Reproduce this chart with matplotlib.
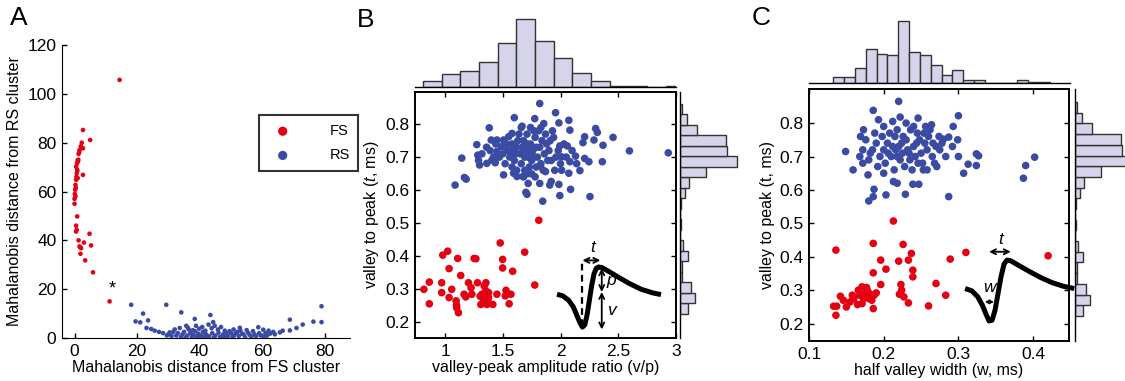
import matplotlib
matplotlib.use("Agg")
import matplotlib.pyplot as plt
import numpy as np

plt.rcParams['font.family'] = ['Liberation Sans', 'DejaVu Sans']
plt.rcParams['mathtext.fontset'] = 'custom'
plt.rcParams['mathtext.rm'] = 'Liberation Sans'
plt.rcParams['mathtext.it'] = 'Liberation Sans:italic'
plt.rcParams['font.size'] = 11.5
plt.rcParams['xtick.labelsize'] = 12.5
plt.rcParams['ytick.labelsize'] = 12.5

RED = '#e50012'
BLUE = '#3b4ba3'
HIST_FILL = '#d5d4ea'
HIST_EDGE = '#333333'

# ---- panel A: Mahalanobis distances ----
a_fs_x = [14.4, 2.7, 5.0, 2.3, 2.7, 1.6, 1.3, 1.1, 0.8, 2.7, 0.0, 0.0, 0.1, 0.2, 0.3, 0.5,
          0.7, 0.5, 0.85, 0.5, 0.7, 0.5, 1.3, 1.6, 2.1, 1.8, 3.0, 4.8, 5.3, 1.9, 3.4, 5.9,
          11.2, 0.6, 0.9, 1.0, 1.2, 0.4, 0.8, 1.5, 2.0, 1.0, 0.3]
a_fs_y = [105.7, 85.2, 81.1, 80.0, 77.7, 77.0, 75.4, 72.3, 71.5, 66.8, 55.0, 57.0, 59.0, 60.7,
          62.7, 64.8, 67.5, 70.2, 49.8, 46.0, 44.3, 43.6, 40.0, 37.5, 36.8, 37.2, 39.1, 42.7,
          37.9, 34.5, 31.8, 26.9, 15.0, 66.0, 68.5, 65.5, 73.0, 61.5, 69.0, 76.0, 78.5, 72.8, 58.0]
a_rs_x = [18.1, 29.3, 34.1, 21.9, 43.4, 78.9, 78.9, 68.8, 76.3, 72.9, 68.8, 70.9, 19.5, 21.0,
          23.5, 38.4, 44.3, 23.0, 24.5, 25.6, 28.3, 30.4, 33.6, 35.7, 58.7, 60.3, 65.6, 62.0,
          61.0, 63.5, 66.5, 57.0, 55.5, 54.0, 53.0, 52.0, 51.0, 50.0, 49.0, 48.0, 47.5, 46.5,
          46.0, 45.0, 44.5, 44.0, 43.0, 42.5, 42.0, 41.5, 41.0, 40.5, 40.0, 39.5, 39.0, 38.5,
          38.0, 37.5, 37.0, 36.5, 36.0, 35.5, 35.0, 34.5, 34.0, 33.0, 32.5, 31.5, 31.0, 30.0,
          36.2, 37.8, 39.8, 41.8, 43.8, 45.8, 47.8, 48.5, 49.5, 50.5, 51.5, 52.5, 53.5, 54.5,
          55.0, 56.0, 56.5, 57.5, 58.0, 59.0, 59.5, 60.5, 61.5, 62.5, 64.0, 44.8, 42.8, 40.8,
          38.8, 46.8, 52.8, 50.8, 27.0, 32.0, 29.5]
a_rs_y = [13.6, 13.6, 10.5, 10.0, 9.4, 13.0, 6.5, 7.5, 6.7, 5.5, 3.1, 4.1, 6.8, 6.4,
          7.2, 7.8, 6.5, 4.1, 3.7, 3.0, 2.0, 2.3, 4.1, 5.0, 4.4, 3.4, 2.3, 3.0,
          2.0, 2.5, 3.0, 2.8, 2.0, 1.5, 3.0, 2.5, 1.0, 2.0, 0.8, 3.0, 1.5, 0.5,
          2.2, 1.0, 0.3, 2.0, 0.8, 0.2, 1.5, 0.5, 2.5, 1.0, 0.3, 1.8, 0.6, 2.8,
          1.2, 0.4, 2.0, 3.5, 1.0, 0.2, 2.5, 1.5, 0.5, 2.0, 1.0, 2.5, 0.8, 1.5,
          4.2, 3.2, 3.8, 3.0, 4.0, 3.5, 0.2, 1.8, 2.8, 0.5, 2.0, 0.8, 1.8, 0.3,
          3.2, 1.2, 0.5, 1.5, 0.8, 2.0, 1.0, 0.5, 1.0, 1.8, 1.5, 5.0, 5.5, 4.5,
          5.0, 4.5, 4.2, 3.5, 2.5, 3.5, 1.0]

# ---- panel B: amplitude ratio vs valley-to-peak ----
b_fs = [(1.812, 0.508), (0.817, 0.298), (0.864, 0.320), (0.864, 0.254), (0.971, 0.318),
        (0.980, 0.402), (1.023, 0.414), (0.971, 0.288), (1.035, 0.361), (1.058, 0.298),
        (1.035, 0.273), (1.096, 0.263), (1.101, 0.242), (1.116, 0.227), (1.110, 0.392),
        (1.136, 0.340), (1.165, 0.283), (1.203, 0.318), (1.226, 0.303), (1.232, 0.283),
        (1.252, 0.392), (1.267, 0.391), (1.281, 0.318), (1.310, 0.252), (1.319, 0.283),
        (1.339, 0.308), (1.354, 0.318), (1.354, 0.293), (1.333, 0.268), (1.362, 0.252),
        (1.377, 0.273), (1.377, 0.288), (1.414, 0.252), (1.449, 0.283), (1.478, 0.439),
        (1.499, 0.389), (1.499, 0.363), (1.522, 0.278), (1.528, 0.295), (1.555, 0.254),
        (1.571, 0.283), (1.586, 0.353), (1.690, 0.411), (1.777, 0.311), (1.304, 0.277),
        (1.342, 0.285), (1.370, 0.262), (1.100, 0.250), (1.180, 0.275)]
b_rs = [(1.820, 0.863), (1.600, 0.820), (1.777, 0.817), (1.957, 0.835), (2.072, 0.812),
        (1.986, 0.804), (1.383, 0.789), (1.667, 0.794), (1.855, 0.802), (2.081, 0.782),
        (2.304, 0.787), (2.319, 0.775), (2.455, 0.760), (2.209, 0.762), (2.290, 0.752),
        (2.368, 0.736), (2.194, 0.744), (2.597, 0.719), (2.933, 0.713), (2.362, 0.686),
        (2.246, 0.686), (2.209, 0.696), (2.130, 0.703), (2.081, 0.686), (2.058, 0.734),
        (1.994, 0.734), (2.009, 0.701), (2.168, 0.659), (2.072, 0.651), (2.087, 0.602),
        (1.986, 0.617), (1.994, 0.583), (1.919, 0.626), (1.907, 0.615), (1.820, 0.620),
        (1.846, 0.566), (1.710, 0.587), (1.700, 0.593), (2.255, 0.580), (1.870, 0.656),
        (1.826, 0.673), (1.751, 0.649), (1.675, 0.641), (1.623, 0.641), (1.594, 0.651),
        (1.507, 0.646), (1.435, 0.683), (1.406, 0.691), (1.362, 0.681), (1.299, 0.676),
        (1.284, 0.706), (1.275, 0.738), (1.145, 0.697), (1.087, 0.615), (1.168, 0.638),
        (1.183, 0.633), (1.400, 0.752), (1.449, 0.752), (1.507, 0.752), (1.490, 0.732),
        (1.449, 0.717), (1.551, 0.762), (1.580, 0.772), (1.62, 0.73), (1.65, 0.71),
        (1.68, 0.75), (1.70, 0.72), (1.72, 0.70), (1.74, 0.74), (1.76, 0.72), (1.78, 0.76),
        (1.80, 0.70), (1.82, 0.73), (1.84, 0.75), (1.86, 0.71), (1.88, 0.74), (1.90, 0.72),
        (1.92, 0.69), (1.94, 0.76), (1.60, 0.69), (1.58, 0.74), (1.56, 0.70), (1.54, 0.72),
        (1.52, 0.68), (1.50, 0.71), (1.64, 0.77), (1.66, 0.68), (1.69, 0.66), (1.71, 0.77),
        (1.73, 0.67), (1.75, 0.69), (1.77, 0.78), (1.79, 0.67), (1.81, 0.78), (1.83, 0.68),
        (1.85, 0.66), (1.87, 0.77), (1.89, 0.69), (1.91, 0.75), (1.96, 0.70), (1.98, 0.72),
        (1.63, 0.75), (1.67, 0.73), (1.71, 0.74), (1.69, 0.70), (1.73, 0.72), (1.75, 0.71),
        (1.77, 0.70), (1.79, 0.73), (1.61, 0.71), (1.57, 0.72), (1.53, 0.74), (1.47, 0.70),
        (1.44, 0.74), (1.42, 0.70), (1.66, 0.79), (1.74, 0.79), (1.83, 0.79), (1.62, 0.66),
        (1.72, 0.65), (1.58, 0.67), (2.00, 0.68), (2.03, 0.74), (2.05, 0.70), (2.10, 0.72),
        (2.14, 0.68), (2.01, 0.66), (1.95, 0.66), (1.93, 0.78), (1.68, 0.64), (1.78, 0.64),
        (1.72, 0.62), (1.36, 0.73), (1.32, 0.71), (1.39, 0.72), (1.29, 0.69)]

# ---- panel C: half valley width vs valley-to-peak ----
c_fs = [(0.213, 0.507), (0.136, 0.420), (0.186, 0.440), (0.226, 0.437), (0.237, 0.410),
        (0.233, 0.390), (0.220, 0.387), (0.196, 0.390), (0.203, 0.363), (0.239, 0.360),
        (0.239, 0.340), (0.186, 0.352), (0.196, 0.317), (0.223, 0.317), (0.224, 0.300),
        (0.227, 0.280), (0.221, 0.288), (0.233, 0.262), (0.260, 0.253), (0.270, 0.320),
        (0.283, 0.285), (0.289, 0.393), (0.310, 0.413), (0.420, 0.403), (0.136, 0.225),
        (0.133, 0.252), (0.137, 0.252), (0.142, 0.282), (0.150, 0.250), (0.155, 0.265),
        (0.160, 0.275), (0.165, 0.257), (0.166, 0.300), (0.168, 0.285), (0.173, 0.275),
        (0.171, 0.310), (0.177, 0.308), (0.175, 0.290), (0.181, 0.290), (0.184, 0.270),
        (0.186, 0.245), (0.187, 0.285), (0.190, 0.292), (0.178, 0.300), (0.171, 0.260),
        (0.146, 0.270), (0.158, 0.285), (0.180, 0.275)]
c_rs = [(0.220, 0.865), (0.186, 0.838), (0.222, 0.818), (0.246, 0.815), (0.300, 0.822),
        (0.193, 0.810), (0.212, 0.805), (0.264, 0.795), (0.293, 0.790), (0.173, 0.780),
        (0.169, 0.760), (0.149, 0.715), (0.159, 0.660), (0.172, 0.680), (0.179, 0.645),
        (0.187, 0.602), (0.180, 0.567), (0.186, 0.580), (0.203, 0.585), (0.229, 0.587),
        (0.239, 0.617), (0.247, 0.617), (0.287, 0.580), (0.307, 0.650), (0.313, 0.677),
        (0.324, 0.673), (0.324, 0.708), (0.327, 0.702), (0.283, 0.700), (0.299, 0.750),
        (0.287, 0.758), (0.280, 0.752), (0.275, 0.720), (0.387, 0.635), (0.390, 0.673),
        (0.402, 0.698), (0.271, 0.670), (0.253, 0.660), (0.218, 0.620), (0.213, 0.625),
        (0.200, 0.650), (0.192, 0.670), (0.200, 0.720), (0.205, 0.740), (0.210, 0.700),
        (0.215, 0.760), (0.220, 0.730), (0.225, 0.710), (0.230, 0.750), (0.235, 0.690),
        (0.240, 0.730), (0.245, 0.770), (0.250, 0.710), (0.255, 0.740), (0.260, 0.760),
        (0.265, 0.700), (0.270, 0.730), (0.195, 0.700), (0.190, 0.740), (0.185, 0.720),
        (0.180, 0.690), (0.176, 0.750), (0.172, 0.720), (0.168, 0.700), (0.202, 0.680),
        (0.208, 0.770), (0.212, 0.730), (0.218, 0.780), (0.222, 0.690), (0.226, 0.760),
        (0.232, 0.720), (0.236, 0.780), (0.242, 0.700), (0.248, 0.750), (0.252, 0.680),
        (0.258, 0.720), (0.262, 0.780), (0.268, 0.680), (0.274, 0.760), (0.278, 0.740),
        (0.228, 0.670), (0.238, 0.660), (0.214, 0.660), (0.206, 0.710), (0.216, 0.720),
        (0.224, 0.740), (0.234, 0.710), (0.244, 0.740), (0.254, 0.770), (0.198, 0.760),
        (0.188, 0.770), (0.182, 0.710), (0.230, 0.800), (0.240, 0.790), (0.256, 0.790),
        (0.266, 0.740), (0.292, 0.730), (0.300, 0.700), (0.258, 0.660), (0.246, 0.680),
        (0.218, 0.700), (0.200, 0.790)]

# histogram counts (marginals)
b_top_start, b_top_width = 0.811, 0.1614
b_top_counts = [6, 13, 16, 25, 44, 68, 46, 29, 14, 6, 1, 1, 0, 1]
c_top_start, c_top_width = 0.1325, 0.01443
c_top_counts = [6, 6, 15, 34, 29, 28, 62, 31, 28, 18, 8, 13, 3, 3, 0, 0, 0, 3, 1, 1]
t_start, t_width = 0.223, 0.032
t_counts = [8, 15, 11, 2, 2, 8, 3, 0, 1, 0, 1, 5, 9, 26, 57, 47, 46, 17, 7, 2]

# schematic spike waveforms
wave_b_x = [1.97, 2.02, 2.07, 2.11, 2.14, 2.17, 2.19, 2.21, 2.23, 2.25, 2.27, 2.29, 2.31,
            2.33, 2.36, 2.42, 2.50, 2.60, 2.70, 2.80, 2.87]
wave_b_y = [0.283, 0.278, 0.265, 0.245, 0.220, 0.195, 0.183, 0.190, 0.220, 0.265, 0.310,
            0.345, 0.362, 0.366, 0.364, 0.352, 0.335, 0.315, 0.298, 0.287, 0.282]
wave_c_x = [0.309, 0.318, 0.326, 0.332, 0.337, 0.341, 0.345, 0.349, 0.353, 0.357, 0.361,
            0.365, 0.370, 0.380, 0.395, 0.410, 0.425, 0.440, 0.455]
wave_c_y = [0.305, 0.298, 0.280, 0.255, 0.228, 0.208, 0.210, 0.240, 0.290, 0.340, 0.378,
            0.390, 0.388, 0.375, 0.356, 0.338, 0.323, 0.312, 0.305]

W, H = 1125, 381
fig = plt.figure(figsize=(W / 100, H / 100), dpi=100)


def px_axes(left, top, right, bottom):
    return fig.add_axes([left / W, 1 - bottom / H, (right - left) / W, (bottom - top) / H])


def matlab_ticks(ax):
    ax.tick_params(direction='in', length=3.5, width=1.0, top=True, right=True, pad=4)
    for s in ax.spines.values():
        s.set_linewidth(1.4)


# ---------- A ----------
axA = px_axes(62, 45, 350, 338)
axA.scatter(a_fs_x, a_fs_y, s=11, c=RED, edgecolors='none', label='FS', zorder=3)
axA.scatter(a_rs_x, a_rs_y, s=11, c=BLUE, edgecolors='none', label='RS', zorder=3)
axA.set_xlim(-4, 88)
axA.set_ylim(0, 120)
axA.set_xticks([0, 20, 40, 60, 80])
axA.set_yticks([0, 20, 40, 60, 80, 100, 120])
axA.spines['top'].set_visible(False)
axA.spines['right'].set_visible(False)
axA.tick_params(direction='in', length=3.5, width=1.0, pad=4)
axA.set_xlabel('Mahalanobis distance from FS cluster', labelpad=1)
axA.set_ylabel('Mahalanobis distance from RS cluster', labelpad=4)
axA.text(12.1, 16.5, '*', fontsize=13, ha='center', va='bottom')
leg = axA.legend(loc='upper left', bbox_to_anchor=(0.66, 0.785), frameon=True, fancybox=False,
                 edgecolor='black', markerscale=2.0, handletextpad=2.2, borderpad=0.6,
                 fontsize=10.5, labelspacing=0.7)
leg.get_frame().set_linewidth(1.5)
fig.text(10 / W, 1 - 18 / H, 'A', fontsize=19, va='center', ha='left')


def scatter_panel(box, fs, rs, xlim, ylim, xticks, xticklabels, xlabel, ylabel):
    ax = px_axes(*box)
    ax.scatter([p[0] for p in rs], [p[1] for p in rs], s=30, c=BLUE, edgecolors='none', zorder=3)
    ax.scatter([p[0] for p in fs], [p[1] for p in fs], s=30, c=RED, edgecolors='none', zorder=3)
    ax.set_xlim(*xlim)
    ax.set_ylim(*ylim)
    ax.set_xticks(xticks)
    ax.set_xticklabels(xticklabels)
    ax.set_yticks([0.2, 0.3, 0.4, 0.5, 0.6, 0.7, 0.8])
    matlab_ticks(ax)
    ax.set_xlabel(xlabel, labelpad=1)
    ax.set_ylabel(ylabel, labelpad=3)
    return ax


def top_hist(box, start, width, counts, xlim):
    ax = px_axes(*box)
    edges = [start + i * width for i in range(len(counts))]
    ax.bar(edges, counts, width=width, align='edge', color=HIST_FILL, edgecolor=HIST_EDGE,
           linewidth=1.0, clip_on=True)
    ax.set_xlim(*xlim)
    ax.set_ylim(0, box[3] - box[1])
    ax.set_xticks([])
    ax.set_yticks([])
    for k in ['top', 'left', 'right']:
        ax.spines[k].set_visible(False)
    ax.spines['bottom'].set_linewidth(1.0)
    ax.patch.set_alpha(0)
    return ax


def right_hist(box, ylim):
    ax = px_axes(*box)
    edges = [t_start + i * t_width for i in range(len(t_counts))]
    ax.barh(edges, t_counts, height=t_width, align='edge', color=HIST_FILL, edgecolor=HIST_EDGE,
            linewidth=1.0)
    ax.set_ylim(*ylim)
    ax.set_xlim(0, box[2] - box[0])
    ax.set_xticks([])
    ax.set_yticks([])
    for k in ['top', 'bottom', 'right']:
        ax.spines[k].set_visible(False)
    ax.spines['left'].set_linewidth(1.0)
    ax.patch.set_alpha(0)
    return ax


# ---------- B ----------
axB = scatter_panel((415, 92, 676, 338), b_fs, b_rs, (0.74, 3.0), (0.15, 0.898),
                    [1, 1.5, 2, 2.5, 3], ['1', '1.5', '2', '2.5', '3'],
                    'valley-peak amplitude ratio (v/p)', 'valley to peak ($t$, ms)')
top_hist((415, 12, 676, 87), b_top_start, b_top_width, b_top_counts, (0.74, 3.0))
right_hist((680, 92, 740, 338), (0.15, 0.898))
axB.plot(wave_b_x, wave_b_y, color='black', lw=3.6, solid_capstyle='butt', zorder=4)
axB.plot([2.19, 2.19], [0.185, 0.38], color='black', lw=1.6, ls=(0, (3, 2)), zorder=4)
arrow = dict(arrowstyle='<->', color='black', lw=1.3, shrinkA=0, shrinkB=0,
             mutation_scale=9)
axB.annotate('', xy=(2.19, 0.386), xytext=(2.345, 0.386), arrowprops=arrow, zorder=5)
axB.annotate('', xy=(2.357, 0.362), xytext=(2.357, 0.290), arrowprops=arrow, zorder=5)
axB.annotate('', xy=(2.357, 0.290), xytext=(2.357, 0.176), arrowprops=arrow, zorder=5)
axB.text(2.275, 0.402, 't', fontstyle='italic', fontsize=12.5, ha='center', va='bottom')
axB.text(2.40, 0.325, 'p', fontstyle='italic', fontsize=12.5, ha='left', va='center')
axB.text(2.40, 0.235, 'v', fontstyle='italic', fontsize=12.5, ha='left', va='center')
fig.text(357 / W, 1 - 20 / H, 'B', fontsize=19, va='center', ha='left')

# ---------- C ----------
axC = scatter_panel((809, 89, 1069, 341), c_fs, c_rs, (0.1, 0.448), (0.148, 0.902),
                    [0.1, 0.2, 0.3, 0.4], ['0.1', '0.2', '0.3', '0.4'],
                    'half valley width (w, ms)', 'valley to peak (t, ms)')
top_hist((809, 10, 1070, 83), c_top_start, c_top_width, c_top_counts, (0.1, 0.448))
right_hist((1075, 89, 1135, 341), (0.148, 0.902))
axC.plot(wave_c_x, wave_c_y, color='black', lw=3.6, solid_capstyle='butt', zorder=4,
         clip_on=False)
axC.annotate('', xy=(0.341, 0.415), xytext=(0.370, 0.415), arrowprops=arrow, zorder=5)
axC.annotate('', xy=(0.3355, 0.265), xytext=(0.3475, 0.265),
             arrowprops=dict(arrowstyle='<->', color='black', lw=1.0, shrinkA=0, shrinkB=0,
                             mutation_scale=6), zorder=5)
axC.text(0.356, 0.428, 't', fontstyle='italic', fontsize=12.5, ha='center', va='bottom')
axC.text(0.341, 0.285, 'w', fontstyle='italic', fontsize=12.5, ha='center', va='bottom')
fig.text(752 / W, 1 - 18 / H, 'C', fontsize=19, va='center', ha='left')

fig.savefig('out.png', dpi=100)
